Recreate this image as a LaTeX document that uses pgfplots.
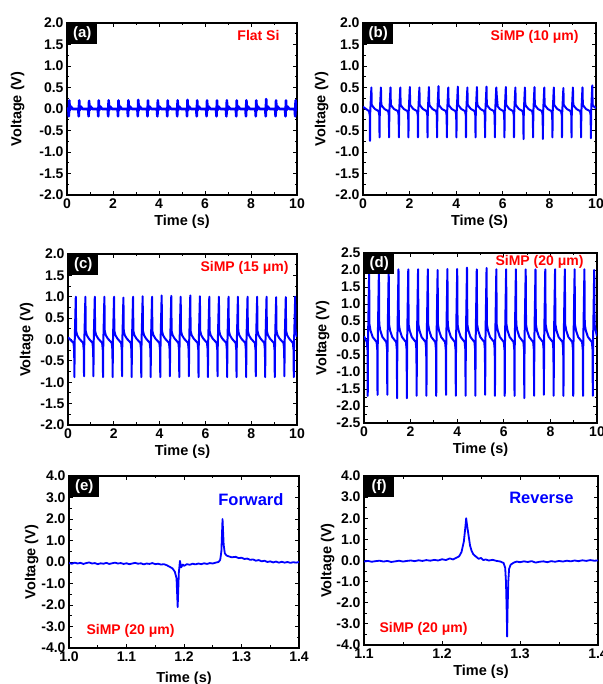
\documentclass[border=0pt]{standalone}
\usepackage{fontspec}
\setmainfont{Liberation Sans}
\usepackage{pgfplots}
\pgfplotsset{compat=1.18}

\pgfplotsset{
  panel/.style={
    scale only axis, anchor=south west, clip mode=individual,
    axis line style={line width=1.1pt},
    every tick/.style={black, line width=0.9pt},
    major tick length=4pt, minor tick length=2.5pt,
    tick align=inside,
    minor x tick num=1, minor y tick num=1,
    tick label style={font=\fontsize{14}{16}\selectfont\bfseries},
    label style={font=\fontsize{14.5}{17}\selectfont\bfseries},
    /pgf/number format/assume math mode=true,
    yticklabel style={/pgf/number format/.cd, fixed, fixed zerofill, precision=1},
    ylabel={Voltage (V)},
  },
  tenx/.style={xmin=0, xmax=10, xtick={0,2,4,6,8,10}, xlabel={Time (s)}},
  trace/.style={blue, line width=2pt, line join=round},
}
\newcommand{\plab}[1]{\node[fill=black, text=white, anchor=north west, minimum width=30pt,
  minimum height=21pt, inner sep=0pt, font=\fontsize{15}{17}\selectfont\bfseries]
  at (rel axis cs:0,1) {#1};}
\newcommand{\redfont}{\fontsize{14}{16}\selectfont\bfseries}

\begin{document}
\begin{tikzpicture}
\useasboundingbox (0,0) rectangle (602pt,684pt);
\clip (0,0) rectangle (602pt,684pt);

% (a) flat Si
\begin{axis}[panel, tenx, at={(67pt,489pt)}, width=230pt, height=172pt,
  ylabel style={xshift=0pt, yshift=8pt},
  ymin=-2, ymax=2, ytick={-2,-1.5,...,2}]
\addplot[trace, line width=2.6pt] coordinates {
(0,0.02)
(0.06,0.00)(0.08,-0.17)(0.10,0.20)(0.12,-0.03)(0.16,0.06)(0.25,0.00)
(0.49,0.00)(0.51,-0.17)(0.53,0.20)(0.55,-0.03)(0.59,0.06)(0.68,0.00)
(0.92,0.00)(0.94,-0.17)(0.96,0.19)(0.98,-0.03)(1.02,0.06)(1.11,0.00)
(1.34,0.00)(1.36,-0.17)(1.38,0.20)(1.40,-0.03)(1.44,0.06)(1.53,0.00)
(1.77,0.00)(1.79,-0.17)(1.81,0.20)(1.83,-0.03)(1.87,0.06)(1.96,0.00)
(2.20,0.00)(2.22,-0.17)(2.24,0.20)(2.26,-0.03)(2.30,0.06)(2.39,0.00)
(2.63,0.00)(2.65,-0.17)(2.67,0.20)(2.69,-0.03)(2.73,0.06)(2.82,0.00)
(3.06,0.00)(3.08,-0.17)(3.10,0.21)(3.12,-0.03)(3.16,0.06)(3.25,0.00)
(3.48,0.00)(3.50,-0.17)(3.52,0.20)(3.54,-0.03)(3.58,0.06)(3.67,0.00)
(3.91,0.00)(3.93,-0.17)(3.95,0.20)(3.97,-0.03)(4.01,0.06)(4.10,0.00)
(4.34,0.00)(4.36,-0.17)(4.38,0.20)(4.40,-0.03)(4.44,0.06)(4.53,0.00)
(4.77,0.00)(4.79,-0.17)(4.81,0.20)(4.83,-0.03)(4.87,0.06)(4.96,0.00)
(5.20,0.00)(5.22,-0.17)(5.24,0.21)(5.26,-0.03)(5.30,0.06)(5.39,0.00)
(5.62,0.00)(5.64,-0.17)(5.66,0.20)(5.68,-0.03)(5.72,0.06)(5.81,0.00)
(6.05,0.00)(6.07,-0.17)(6.09,0.20)(6.11,-0.03)(6.15,0.06)(6.24,0.00)
(6.48,0.00)(6.50,-0.17)(6.52,0.20)(6.54,-0.03)(6.58,0.06)(6.67,0.00)
(6.91,0.00)(6.93,-0.17)(6.95,0.20)(6.97,-0.03)(7.01,0.06)(7.10,0.00)
(7.34,0.00)(7.36,-0.17)(7.38,0.20)(7.40,-0.03)(7.44,0.06)(7.53,0.00)
(7.76,0.00)(7.78,-0.17)(7.80,0.20)(7.82,-0.03)(7.86,0.06)(7.95,0.00)
(8.19,0.00)(8.21,-0.17)(8.23,0.20)(8.25,-0.03)(8.29,0.06)(8.38,0.00)
(8.62,0.00)(8.64,-0.17)(8.66,0.23)(8.68,-0.03)(8.72,0.06)(8.81,0.00)
(9.05,0.00)(9.07,-0.17)(9.09,0.20)(9.11,-0.03)(9.15,0.06)(9.24,0.00)
(9.48,0.00)(9.50,-0.17)(9.52,0.20)(9.54,-0.03)(9.58,0.06)(9.67,0.00)
(9.90,0.00)(9.92,-0.17)(9.94,0.20)(9.96,-0.03)(10.0,0.04)
};
\plab{(a)}
\node[anchor=base east, text=red, font=\redfont] at (rel axis cs:1,1) [xshift=-14pt, yshift=-18pt] {Flat Si};
\end{axis}

% (b) SiMP 10 um
\begin{axis}[panel, at={(363pt,489pt)}, width=233pt, height=172pt,
  xmin=0, xmax=10, xtick={0,2,4,6,8,10}, xlabel={Time (S)},
  ymin=-2, ymax=2, ytick={-2,-1.5,...,2}]
\addplot[trace] coordinates {
(0,0.05)
(0.26,-0.05)(0.29,-0.15)(0.30,-0.74)(0.31,-0.08)(0.36,0.50)(0.375,0.10)(0.42,0.06)(0.51,0.00)
(0.67,-0.05)(0.70,-0.15)(0.71,-0.66)(0.72,-0.08)(0.77,0.50)(0.785,0.10)(0.83,0.06)(0.92,0.00)
(1.08,-0.05)(1.11,-0.15)(1.12,-0.66)(1.13,-0.08)(1.18,0.50)(1.195,0.10)(1.24,0.06)(1.33,0.00)
(1.50,-0.05)(1.53,-0.15)(1.54,-0.66)(1.55,-0.08)(1.60,0.50)(1.615,0.10)(1.66,0.06)(1.75,0.00)
(1.91,-0.05)(1.94,-0.15)(1.95,-0.66)(1.96,-0.08)(2.01,0.51)(2.025,0.10)(2.07,0.06)(2.16,0.00)
(2.32,-0.05)(2.35,-0.15)(2.36,-0.66)(2.37,-0.08)(2.42,0.50)(2.435,0.10)(2.48,0.06)(2.57,0.00)
(2.73,-0.05)(2.76,-0.15)(2.77,-0.66)(2.78,-0.08)(2.83,0.51)(2.845,0.10)(2.89,0.06)(2.98,0.00)
(3.14,-0.05)(3.17,-0.15)(3.18,-0.66)(3.19,-0.08)(3.24,0.53)(3.255,0.10)(3.30,0.06)(3.39,0.00)
(3.56,-0.05)(3.59,-0.15)(3.60,-0.66)(3.61,-0.08)(3.66,0.50)(3.675,0.10)(3.72,0.06)(3.81,0.00)
(3.97,-0.05)(4.00,-0.15)(4.01,-0.66)(4.02,-0.08)(4.07,0.52)(4.085,0.10)(4.13,0.06)(4.22,0.00)
(4.38,-0.05)(4.41,-0.15)(4.42,-0.66)(4.43,-0.08)(4.48,0.50)(4.495,0.10)(4.54,0.06)(4.63,0.00)
(4.79,-0.05)(4.82,-0.15)(4.83,-0.66)(4.84,-0.08)(4.89,0.51)(4.905,0.10)(4.95,0.06)(5.04,0.00)
(5.20,-0.05)(5.23,-0.15)(5.24,-0.66)(5.25,-0.08)(5.30,0.52)(5.315,0.10)(5.36,0.06)(5.45,0.00)
(5.62,-0.05)(5.65,-0.15)(5.66,-0.66)(5.67,-0.08)(5.72,0.50)(5.735,0.35)(5.78,0.06)(5.87,0.00)
(6.03,-0.05)(6.06,-0.15)(6.07,-0.66)(6.08,-0.08)(6.13,0.51)(6.145,0.10)(6.19,0.06)(6.28,0.00)
(6.44,-0.05)(6.47,-0.15)(6.48,-0.66)(6.49,-0.08)(6.54,0.50)(6.555,0.10)(6.60,0.06)(6.69,0.00)
(6.85,-0.05)(6.88,-0.15)(6.89,-0.70)(6.90,-0.08)(6.95,0.50)(6.965,0.10)(7.01,0.06)(7.10,0.00)
(7.26,-0.05)(7.29,-0.15)(7.30,-0.66)(7.31,-0.08)(7.36,0.51)(7.375,0.10)(7.42,0.06)(7.51,0.00)
(7.68,-0.05)(7.71,-0.15)(7.72,-0.70)(7.73,-0.08)(7.78,0.50)(7.795,0.10)(7.84,0.06)(7.93,0.00)
(8.09,-0.05)(8.12,-0.15)(8.13,-0.66)(8.14,-0.08)(8.19,0.50)(8.205,0.10)(8.25,0.06)(8.34,0.00)
(8.50,-0.05)(8.53,-0.15)(8.54,-0.66)(8.55,-0.08)(8.60,0.49)(8.615,0.10)(8.66,0.06)(8.75,0.00)
(8.91,-0.05)(8.94,-0.15)(8.95,-0.66)(8.96,-0.08)(9.01,0.50)(9.025,0.10)(9.07,0.06)(9.16,0.00)
(9.32,-0.05)(9.35,-0.15)(9.36,-0.66)(9.37,-0.08)(9.42,0.50)(9.435,0.10)(9.48,0.06)(9.57,0.00)
(9.74,-0.05)(9.77,-0.15)(9.78,-0.68)(9.79,-0.08)(9.84,0.55)(9.855,0.10)(9.90,0.06)(10.0,0.02)
};
\plab{(b)}
\node[anchor=base east, text=red, font=\redfont] at (rel axis cs:1,1) [xshift=-14pt, yshift=-18pt] {SiMP (10 μm)};
\end{axis}

% (c) SiMP 15 um
\begin{axis}[panel, tenx, at={(68pt,259pt)}, width=229pt, height=171pt,
  ymin=-2, ymax=2, ytick={-2,-1.5,...,2}]
\addplot[trace] coordinates {
(0,0.05)
(0.24,-0.08)(0.27,-0.25)(0.28,-0.88)(0.29,-0.10)(0.34,1.00)(0.355,0.20)(0.40,0.10)(0.49,0.02)
(0.66,-0.08)(0.69,-0.25)(0.70,-0.86)(0.71,-0.10)(0.76,1.00)(0.775,0.20)(0.82,0.10)(0.91,0.02)
(1.07,-0.08)(1.10,-0.25)(1.11,-0.86)(1.12,-0.10)(1.17,1.00)(1.185,0.20)(1.23,0.10)(1.32,0.02)
(1.49,-0.08)(1.52,-0.25)(1.53,-0.88)(1.54,-0.10)(1.59,1.00)(1.605,0.20)(1.65,0.10)(1.74,0.02)
(1.91,-0.08)(1.94,-0.25)(1.95,-0.88)(1.96,-0.10)(2.01,1.00)(2.025,0.20)(2.07,0.10)(2.16,0.02)
(2.32,-0.08)(2.35,-0.25)(2.36,-0.86)(2.37,-0.10)(2.42,0.98)(2.435,0.20)(2.48,0.10)(2.57,0.02)
(2.74,-0.08)(2.77,-0.25)(2.78,-0.88)(2.79,-0.10)(2.84,1.00)(2.855,0.20)(2.90,0.10)(2.99,0.02)
(3.16,-0.08)(3.19,-0.25)(3.20,-0.88)(3.21,-0.10)(3.26,1.01)(3.275,0.20)(3.32,0.10)(3.41,0.02)
(3.57,-0.08)(3.60,-0.25)(3.61,-0.88)(3.62,-0.10)(3.67,1.00)(3.685,0.20)(3.73,0.10)(3.82,0.02)
(3.99,-0.08)(4.02,-0.25)(4.03,-0.88)(4.04,-0.10)(4.09,1.03)(4.105,0.20)(4.15,0.10)(4.24,0.02)
(4.41,-0.08)(4.44,-0.25)(4.45,-0.86)(4.46,-0.10)(4.51,1.02)(4.525,0.20)(4.57,0.10)(4.66,0.02)
(4.82,-0.08)(4.85,-0.25)(4.86,-0.88)(4.87,-0.10)(4.92,1.00)(4.935,0.20)(4.98,0.10)(5.07,0.02)
(5.24,-0.08)(5.27,-0.25)(5.28,-0.86)(5.29,-0.10)(5.34,1.03)(5.355,0.20)(5.40,0.10)(5.49,0.02)
(5.66,-0.08)(5.69,-0.25)(5.70,-0.88)(5.71,-0.10)(5.76,1.01)(5.775,0.20)(5.82,0.10)(5.91,0.02)
(6.07,-0.08)(6.10,-0.25)(6.11,-0.88)(6.12,-0.10)(6.17,1.00)(6.185,0.20)(6.23,0.10)(6.32,0.02)
(6.49,-0.08)(6.52,-0.25)(6.53,-0.86)(6.54,-0.10)(6.59,1.00)(6.605,0.20)(6.65,0.10)(6.74,0.02)
(6.91,-0.08)(6.94,-0.25)(6.95,-0.88)(6.96,-0.10)(7.01,1.00)(7.025,0.20)(7.07,0.10)(7.16,0.02)
(7.32,-0.08)(7.35,-0.25)(7.36,-0.88)(7.37,-0.10)(7.42,1.00)(7.435,0.20)(7.48,0.10)(7.57,0.02)
(7.74,-0.08)(7.77,-0.25)(7.78,-0.88)(7.79,-0.10)(7.84,1.00)(7.855,0.20)(7.90,0.10)(7.99,0.02)
(8.16,-0.08)(8.19,-0.25)(8.20,-0.86)(8.21,-0.10)(8.26,1.00)(8.275,0.20)(8.32,0.10)(8.41,0.02)
(8.57,-0.08)(8.60,-0.25)(8.61,-0.88)(8.62,-0.10)(8.67,1.00)(8.685,0.20)(8.73,0.10)(8.82,0.02)
(8.99,-0.08)(9.02,-0.25)(9.03,-0.88)(9.04,-0.10)(9.09,0.99)(9.105,0.20)(9.15,0.10)(9.24,0.02)
(9.41,-0.08)(9.44,-0.25)(9.45,-0.86)(9.46,-0.10)(9.51,0.99)(9.525,0.20)(9.57,0.10)(9.66,0.02)
(9.82,-0.08)(9.85,-0.25)(9.86,-0.88)(9.87,-0.10)(9.92,1.00)(9.935,0.20)(9.98,0.10)(10.0,0.06)
};
\plab{(c)}
\node[anchor=base east, text=red, font=\redfont] at (rel axis cs:1,1) [xshift=-5pt, yshift=-18pt] {SiMP (15 μm)};
\end{axis}

% (d) SiMP 20 um
\begin{axis}[panel, tenx, at={(364pt,261pt)}, width=233pt, height=170pt,
  ymin=-2.5, ymax=2.5, ytick={-2.5,-2,...,2.5}]
\addplot[trace] coordinates {
(0,0.05)
(0.12,-0.12)(0.15,-0.35)(0.16,-1.70)(0.17,-0.15)(0.22,1.93)(0.235,0.40)(0.28,0.22)(0.37,0.03)
(0.54,-0.12)(0.57,-0.35)(0.58,-1.67)(0.59,-0.15)(0.64,2.02)(0.655,0.40)(0.70,0.22)(0.79,0.03)
(0.96,-0.12)(0.99,-0.35)(1.00,-1.67)(1.01,-0.15)(1.06,2.02)(1.075,0.40)(1.12,0.22)(1.21,0.03)
(1.38,-0.12)(1.41,-0.35)(1.42,-1.77)(1.43,-0.15)(1.48,2.02)(1.495,0.40)(1.54,0.22)(1.63,0.03)
(1.80,-0.12)(1.83,-0.35)(1.84,-1.77)(1.85,-0.15)(1.90,2.02)(1.915,0.40)(1.96,0.22)(2.05,0.03)
(2.22,-0.12)(2.25,-0.35)(2.26,-1.70)(2.27,-0.15)(2.32,2.02)(2.335,0.40)(2.38,0.22)(2.47,0.03)
(2.64,-0.12)(2.67,-0.35)(2.68,-1.70)(2.69,-0.15)(2.74,2.02)(2.755,0.40)(2.80,0.22)(2.89,0.03)
(3.06,-0.12)(3.09,-0.35)(3.10,-1.70)(3.11,-0.15)(3.16,2.00)(3.175,0.40)(3.22,0.22)(3.31,0.03)
(3.48,-0.12)(3.51,-0.35)(3.52,-1.67)(3.53,-0.15)(3.58,2.03)(3.595,0.40)(3.64,0.22)(3.73,0.03)
(3.90,-0.12)(3.93,-0.35)(3.94,-1.70)(3.95,-0.15)(4.00,2.03)(4.015,0.40)(4.06,0.22)(4.15,0.03)
(4.32,-0.12)(4.35,-0.35)(4.36,-1.70)(4.37,-0.15)(4.42,2.07)(4.435,0.40)(4.48,0.22)(4.57,0.03)
(4.74,-0.12)(4.77,-0.35)(4.78,-1.70)(4.79,-0.15)(4.84,2.02)(4.855,0.40)(4.90,0.22)(4.99,0.03)
(5.16,-0.12)(5.19,-0.35)(5.20,-1.67)(5.21,-0.15)(5.26,2.06)(5.275,0.40)(5.32,0.22)(5.41,0.03)
(5.58,-0.12)(5.61,-0.35)(5.62,-1.70)(5.63,-0.15)(5.68,2.02)(5.695,0.40)(5.74,0.22)(5.83,0.03)
(6.00,-0.12)(6.03,-0.35)(6.04,-1.70)(6.05,-0.15)(6.10,2.02)(6.115,0.40)(6.16,0.22)(6.25,0.03)
(6.42,-0.12)(6.45,-0.35)(6.46,-1.70)(6.47,-0.15)(6.52,2.02)(6.535,0.40)(6.58,0.22)(6.67,0.03)
(6.84,-0.12)(6.87,-0.35)(6.88,-1.77)(6.89,-0.15)(6.94,2.02)(6.955,0.40)(7.00,0.22)(7.09,0.03)
(7.26,-0.12)(7.29,-0.35)(7.30,-1.70)(7.31,-0.15)(7.36,2.02)(7.375,0.40)(7.42,0.22)(7.51,0.03)
(7.68,-0.12)(7.71,-0.35)(7.72,-1.67)(7.73,-0.15)(7.78,2.02)(7.795,0.40)(7.84,0.22)(7.93,0.03)
(8.10,-0.12)(8.13,-0.35)(8.14,-1.70)(8.15,-0.15)(8.20,2.02)(8.215,0.40)(8.26,0.22)(8.35,0.03)
(8.52,-0.12)(8.55,-0.35)(8.56,-1.70)(8.57,-0.15)(8.62,2.02)(8.635,0.40)(8.68,0.22)(8.77,0.03)
(8.94,-0.12)(8.97,-0.35)(8.98,-1.70)(8.99,-0.15)(9.04,2.02)(9.055,0.40)(9.10,0.22)(9.19,0.03)
(9.36,-0.12)(9.39,-0.35)(9.40,-1.70)(9.41,-0.15)(9.46,2.02)(9.475,0.40)(9.52,0.22)(9.61,0.03)
(9.78,-0.12)(9.81,-0.35)(9.82,-1.70)(9.83,-0.15)(9.88,2.00)(9.895,0.40)(9.94,0.22)(10.0,0.05)
};
\plab{(d)}
\node[anchor=base east, text=red, font=\redfont] at (rel axis cs:1,1) [xshift=-10pt, yshift=-13pt] {SiMP (20 μm)};
\end{axis}

% (e) forward
\begin{axis}[panel, at={(69pt,36pt)}, width=230pt, height=172pt,
  ylabel style={yshift=-4pt},
  xmin=1.0, xmax=1.4, xtick={1.0,1.1,1.2,1.3,1.4}, xlabel={Time (s)},
  xlabel style={yshift=-4pt},
  xticklabel style={/pgf/number format/.cd, fixed, fixed zerofill, precision=1},
  ymin=-4, ymax=4, ytick={-4,-3,...,4}]
\addplot[trace, line width=1.8pt] coordinates {
(1.000,-0.05)(1.005,-0.08)(1.010,-0.03)(1.015,-0.07)(1.020,-0.04)(1.025,-0.09)
(1.030,-0.05)(1.035,-0.02)(1.040,-0.07)(1.045,-0.05)(1.050,-0.10)(1.055,-0.06)
(1.060,-0.08)(1.065,-0.04)(1.070,-0.09)(1.075,-0.06)(1.080,-0.03)(1.085,-0.07)
(1.090,-0.05)(1.095,-0.09)(1.100,-0.06)(1.105,-0.10)(1.110,-0.07)(1.115,-0.04)
(1.120,-0.08)(1.125,-0.06)(1.130,-0.11)(1.135,-0.07)(1.140,-0.09)(1.145,-0.05)
(1.150,-0.10)(1.155,-0.08)(1.160,-0.12)(1.165,-0.10)(1.170,-0.15)(1.175,-0.22)
(1.180,-0.30)(1.184,-0.45)(1.187,-0.75)(1.189,-2.10)(1.191,-0.50)(1.193,0.05)
(1.195,-0.25)(1.198,-0.12)(1.200,-0.18)(1.205,-0.10)(1.210,-0.13)(1.215,-0.08)
(1.220,-0.11)(1.225,-0.07)(1.230,-0.10)(1.235,-0.06)(1.240,-0.09)(1.245,-0.05)
(1.250,-0.07)(1.255,-0.03)(1.260,0.00)(1.263,0.10)(1.265,0.50)(1.267,2.00)
(1.269,0.80)(1.271,0.40)(1.274,0.30)(1.278,0.26)(1.283,0.22)(1.290,0.24)
(1.295,0.18)(1.300,0.20)(1.305,0.14)(1.310,0.16)(1.315,0.10)(1.320,0.12)
(1.325,0.06)(1.330,0.09)(1.335,0.03)(1.340,0.06)(1.345,0.00)(1.350,0.03)
(1.355,-0.02)(1.360,0.02)(1.365,-0.03)(1.370,0.01)(1.375,-0.03)(1.380,0.00)
(1.385,-0.04)(1.390,-0.01)(1.395,-0.03)(1.400,0.00)
};
\plab{(e)}
\node[anchor=base east, text=blue, font=\fontsize{16.5}{18}\selectfont\bfseries] at (rel axis cs:1,1) [xshift=-12pt, yshift=-30pt] {Forward};
\node[anchor=base west, text=red, font=\redfont] at (rel axis cs:0,0) [xshift=14pt, yshift=13pt] {SiMP (20 μm)};
\end{axis}

% (f) reverse
\begin{axis}[panel, at={(364pt,39pt)}, width=234pt, height=169pt,
  ylabel style={yshift=-5pt},
  xmin=1.1, xmax=1.4, xtick={1.1,1.2,1.3,1.4}, xlabel={Time (s)},
  xticklabel style={/pgf/number format/.cd, fixed, fixed zerofill, precision=1},
  ymin=-4, ymax=4, ytick={-4,-3,...,4}]
\addplot[trace, line width=1.8pt] coordinates {
(1.100,-0.05)(1.105,-0.02)(1.110,-0.06)(1.115,-0.03)(1.120,-0.01)(1.125,-0.05)
(1.130,-0.02)(1.135,-0.07)(1.140,-0.04)(1.145,-0.01)(1.150,-0.05)(1.155,-0.02)
(1.160,0.00)(1.165,-0.03)(1.170,0.01)(1.175,-0.02)(1.180,0.02)(1.185,-0.01)
(1.190,0.03)(1.195,0.00)(1.200,0.06)(1.205,0.02)(1.210,0.10)(1.214,0.05)
(1.218,0.12)(1.222,0.20)(1.225,0.40)(1.228,0.90)(1.230,1.60)(1.231,2.00)
(1.232,1.70)(1.234,1.20)(1.236,0.70)(1.238,0.45)(1.240,0.30)(1.243,0.20)
(1.247,0.08)(1.250,0.12)(1.253,0.02)(1.256,0.05)(1.260,0.00)(1.265,0.03)
(1.270,-0.02)(1.275,-0.05)(1.279,-0.12)(1.281,-0.35)(1.282,-1.00)(1.283,-2.50)
(1.2835,-3.60)(1.284,-2.40)(1.285,-1.00)(1.286,-0.40)(1.288,-0.20)(1.292,-0.10)
(1.296,-0.05)(1.300,-0.08)(1.305,-0.04)(1.310,-0.07)(1.315,-0.03)(1.320,-0.10)
(1.325,-0.06)(1.330,-0.04)(1.335,-0.08)(1.340,-0.03)(1.345,-0.06)(1.350,-0.02)
(1.355,-0.05)(1.360,-0.01)(1.365,-0.04)(1.370,0.00)(1.375,-0.03)(1.380,0.01)
(1.385,-0.02)(1.390,0.02)(1.395,-0.01)(1.400,0.00)
};
\plab{(f)}
\node[anchor=base east, text=blue, font=\fontsize{16.5}{18}\selectfont\bfseries] at (rel axis cs:1,1) [xshift=-21pt, yshift=-27pt] {Reverse};
\node[anchor=base west, text=red, font=\redfont] at (rel axis cs:0,0) [xshift=12pt, yshift=12pt] {SiMP (20 μm)};
\end{axis}
\end{tikzpicture}
\end{document}
